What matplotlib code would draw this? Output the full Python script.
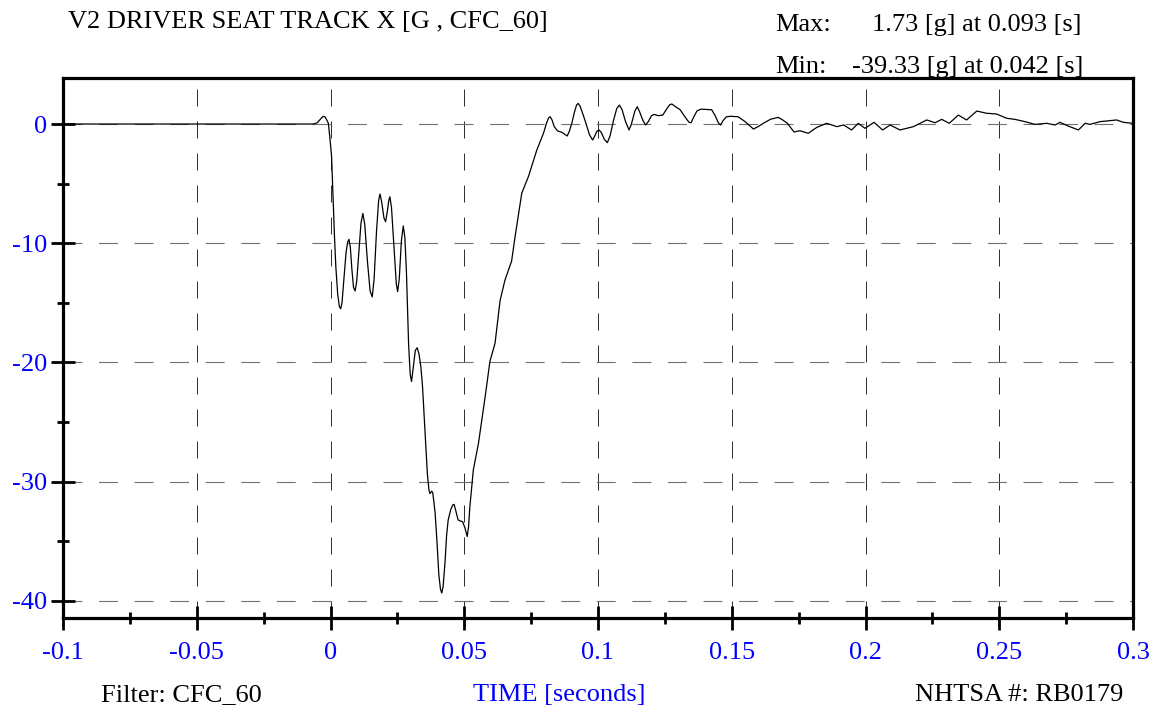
import matplotlib
matplotlib.use("Agg")
import matplotlib.pyplot as plt
from matplotlib.ticker import FixedLocator

# ---------------- data ----------------
time_s = [-0.1, -0.05, -0.01, -0.0065, -0.0050, -0.0040, -0.0032, -0.0026, -0.0020, -0.0014, -0.0008,
          -0.0003, 0.0004, 0.0010, 0.0015, 0.0020, 0.0027, 0.0033, 0.0038,
          0.0043, 0.0050, 0.0058, 0.0064, 0.0069, 0.0074, 0.0080, 0.0086, 0.0092,
          0.0098, 0.0106, 0.0114, 0.0121, 0.0128, 0.0138, 0.0148, 0.0156,
          0.0163, 0.0172, 0.0180, 0.0185, 0.0191, 0.0200, 0.0206, 0.0212, 0.0218, 0.0222,
          0.0228, 0.0238, 0.0246, 0.0251, 0.0257, 0.0265, 0.0272, 0.0278, 0.0284, 0.0288,
          0.0292, 0.0298, 0.0303, 0.0309, 0.0317, 0.0324, 0.0331, 0.0338, 0.0344,
          0.0351, 0.0362, 0.0368, 0.0372, 0.0378, 0.0382, 0.0386, 0.0391, 0.0398, 0.0405,
          0.0411, 0.0416, 0.0421, 0.0428, 0.0434, 0.0440, 0.0450, 0.0457, 0.0462, 0.0468,
          0.0477, 0.0486, 0.0494, 0.0503, 0.0511, 0.0516, 0.0521, 0.0534, 0.0553, 0.0578,
          0.0596, 0.0615, 0.0634, 0.0652, 0.0677, 0.0690, 0.0715, 0.0740, 0.0771, 0.0796,
          0.0808, 0.0815, 0.0821, 0.0828, 0.0836, 0.0848, 0.0868, 0.0878, 0.0885, 0.0893,
          0.0902, 0.0912, 0.0920, 0.0926, 0.0933, 0.0944, 0.0955, 0.0968, 0.0980, 0.0988,
          0.0996, 0.1004, 0.1012, 0.1024, 0.1035, 0.1045, 0.1058, 0.1070, 0.1080, 0.1090,
          0.1103, 0.1116, 0.1125, 0.1138, 0.1147, 0.1156, 0.1168, 0.1178, 0.1188, 0.1200,
          0.1209, 0.1225, 0.1242, 0.1255, 0.1268, 0.1276, 0.1290, 0.1307, 0.1322, 0.1340,
          0.1348, 0.1358, 0.1370, 0.1385, 0.1405, 0.1425, 0.1438, 0.1450, 0.1458, 0.1468,
          0.1480, 0.1495, 0.1524, 0.1550, 0.1581, 0.1600, 0.1618, 0.1645,
          0.1674, 0.1690, 0.1708, 0.1733, 0.1755, 0.1786, 0.1818, 0.1855, 0.1893, 0.1918,
          0.1948, 0.1973, 0.1998, 0.2032, 0.2064, 0.2092, 0.2129, 0.2179, 0.2229, 0.2260,
          0.2285, 0.2313, 0.2347, 0.2378, 0.2416, 0.2453, 0.2490, 0.2528, 0.2559, 0.2596,
          0.2634, 0.2677, 0.2709, 0.2727, 0.2758, 0.2796, 0.2821, 0.2839, 0.2877, 0.2939,
          0.2964, 0.3]
accel_g = [0.0, 0.0, 0.0, 0.0, 0.1, 0.35, 0.55, 0.65, 0.58, 0.35, 0.06,
           -1.0, -2.7, -6.4, -9.5, -12.0, -14.3, -15.3, -15.5,
           -15.0, -13.0, -10.8, -9.9, -9.67, -10.3, -12.2, -13.7, -14.0,
           -13.2, -10.8, -8.3, -7.5, -8.4, -11.5, -14.0, -14.5,
           -13.0, -9.0, -6.4, -5.87, -6.5, -7.9, -8.19, -7.4, -6.4, -6.1,
           -7.0, -10.5, -13.4, -14.06, -13.0, -9.8, -8.55, -9.5, -12.5, -15.5,
           -18.5, -21.0, -21.6, -20.5, -19.0, -18.76, -19.3, -20.4, -22.0,
           -24.8, -29.3, -30.7, -31.0, -30.8, -30.9, -31.6, -32.6, -35.0, -37.8,
           -39.0, -39.33, -38.8, -36.8, -34.5, -33.2, -32.3, -31.95, -31.9, -32.4,
           -33.2, -33.3, -33.35, -33.9, -34.6, -33.8, -32.1, -29.0, -26.8, -22.9,
           -19.9, -18.4, -14.8, -13.1, -11.5, -9.45, -5.8, -4.4, -2.2, -0.78,
           0.1, 0.5, 0.61, 0.35, -0.2, -0.56, -0.73, -0.9, -1.0, -0.6,
           0.05, 1.0, 1.6, 1.73, 1.5, 0.8, 0.05, -0.9, -1.34, -1.0,
           -0.6, -0.5, -0.7, -1.3, -1.56, -1.0, 0.3, 1.3, 1.59, 1.2,
           0.2, -0.5, 0.0, 1.1, 1.45, 1.0, 0.3, -0.08, 0.2, 0.7,
           0.81, 0.7, 0.75, 1.2, 1.62, 1.68, 1.45, 1.2, 0.7, 0.15,
           0.11, 0.6, 1.1, 1.25, 1.22, 1.2, 0.7, 0.1, -0.08, 0.3,
           0.6, 0.65, 0.61, 0.2, -0.42, -0.2, 0.06, 0.4,
           0.56, 0.35, 0.06, -0.67, -0.56, -0.78, -0.28, 0.06, -0.22, -0.08,
           -0.5, 0.06, -0.36, 0.14, -0.5, -0.08, -0.5, -0.22, 0.34, 0.11,
           0.39, 0.06, 0.75, 0.34, 1.09, 0.9, 0.84, 0.48, 0.39, 0.2,
           -0.03, 0.06, -0.08, 0.14, -0.17, -0.5, 0.06, -0.03, 0.2, 0.34,
           0.14, 0.06]

x_ticks = [-0.1, -0.05, 0, 0.05, 0.1, 0.15, 0.2, 0.25, 0.3]
x_tick_labels = ["-0.1", "-0.05", "0", "0.05", "0.1", "0.15", "0.2", "0.25", "0.3"]
x_minor = [-0.075, -0.025, 0.025, 0.075, 0.125, 0.175, 0.225, 0.275]
y_ticks = [0, -10, -20, -30, -40]
y_tick_labels = ["0", "-10", "-20", "-30", "-40"]
y_minor = [-5, -15, -25, -35]

title = "V2 DRIVER SEAT TRACK X [G , CFC_60]"
max_label, max_text = "Max:", "1.73 [g] at 0.093 [s]"
min_label, min_text = "Min:", "-39.33 [g] at 0.042 [s]"
filter_text = "Filter: CFC_60"
xlabel_text = "TIME [seconds]"
nhtsa_text = "NHTSA #: RB0179"

# ---------------- figure ----------------
W, H = 1157, 709
plt.rcParams['font.family'] = ['Liberation Serif', 'DejaVu Serif']
fig = plt.figure(figsize=(W / 100, H / 100), dpi=100)
L, R, T, B = 63, 1133, 78, 618
ax = fig.add_axes([L / W, 1 - B / H, (R - L) / W, (B - T) / H])

ax.plot(time_s, accel_g, color='black', lw=0.9, zorder=3)

ax.set_xlim(-0.1, 0.3)
ax.set_ylim(-41.43, 3.86)

ax.xaxis.set_major_locator(FixedLocator(x_ticks))
ax.set_xticklabels(x_tick_labels)
ax.xaxis.set_minor_locator(FixedLocator(x_minor))
ax.yaxis.set_major_locator(FixedLocator(y_ticks))
ax.set_yticklabels(y_tick_labels)
ax.yaxis.set_minor_locator(FixedLocator(y_minor))

blue = '#0000ff'
fs = 19
ax.tick_params(axis='both', which='major', direction='inout', length=17, width=2.0,
               labelsize=fs, labelcolor=blue, color='black')
ax.tick_params(axis='both', which='minor', direction='inout', length=9, width=2.0,
               color='black')
ax.tick_params(axis='x', which='major', pad=9)
ax.tick_params(axis='y', which='major', pad=3)

for s in ax.spines.values():
    s.set_linewidth(2.3)
    s.set_color('black')

ax.xaxis.grid(True, which='major', color='#303030', lw=0.72, linestyle=(0, (17, 15)))
ax.yaxis.grid(True, which='major', color='#707070', lw=0.8, linestyle=(0, (17, 15)))

# texts
fig.text(68 / W, 1 - 28 / H, title, fontsize=fs, ha='left', va='baseline')
fig.text(775 / W, 1 - 31 / H, max_label, fontsize=fs, ha='left', va='baseline')
fig.text(872 / W, 1 - 31 / H, max_text, fontsize=fs, ha='left', va='baseline')
fig.text(775 / W, 1 - 73 / H, min_label, fontsize=fs, ha='left', va='baseline')
fig.text(852 / W, 1 - 73 / H, min_text, fontsize=fs, ha='left', va='baseline')
fig.text(101 / W, 1 - 701 / H, filter_text, fontsize=fs, ha='left', va='baseline')
fig.text(473 / W, 1 - 701 / H, xlabel_text, fontsize=fs, ha='left', va='baseline', color=blue)
fig.text(915 / W, 1 - 701 / H, nhtsa_text, fontsize=fs, ha='left', va='baseline')

fig.savefig("out.png", dpi=100)
